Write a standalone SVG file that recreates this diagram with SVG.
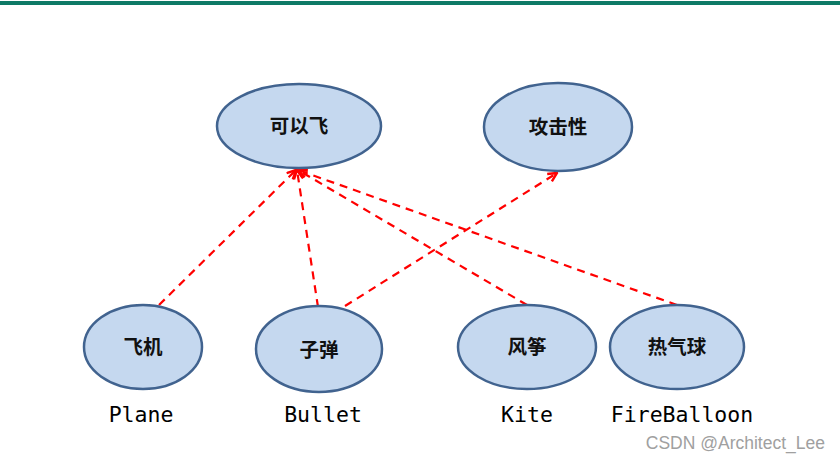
<svg xmlns="http://www.w3.org/2000/svg" width="840" height="463" viewBox="0 0 840 463">
<defs>
<style>
.n ellipse{fill:#c5d8ef;stroke:#41638f;stroke-width:2.5}
.n text{font-family:"Noto Sans CJK SC","Noto Sans CJK JP",sans-serif;font-size:19.5px;font-weight:bold;fill:#111;text-anchor:middle}
.lbl{font-family:"DejaVu Sans Mono","Liberation Mono",monospace;font-size:21.5px;fill:#000;text-anchor:middle}
.e{stroke:#ff0000;stroke-width:2.2;stroke-dasharray:8,6;fill:none;marker-end:url(#ah)}
</style>
<marker id="ah" viewBox="0 0 10 10" refX="9" refY="5" markerWidth="5" markerHeight="5" orient="auto" markerUnits="strokeWidth">
<path d="M1,1 L9,5 L1,9" fill="none" stroke="#ff0000" stroke-width="2.2"/>
</marker>
</defs>
<rect width="840" height="463" fill="#ffffff"/>
<rect x="0" y="1" width="840" height="4" fill="#0e7a66"/>
<g id="edges">
<line class="e" x1="159" y1="305" x2="296" y2="170"/>
<line class="e" x1="318" y1="307" x2="297" y2="170"/>
<line class="e" x1="345" y1="306" x2="557" y2="173"/>
<line class="e" x1="527" y1="305" x2="298" y2="170"/>
<line class="e" x1="677" y1="305" x2="298" y2="170"/>
</g>
<g id="fly" class="n"><ellipse cx="299" cy="126" rx="82" ry="42"/><text x="299" y="133">可以飞</text></g>
<g id="attack" class="n"><ellipse cx="558" cy="127" rx="74" ry="44"/><text x="558" y="134">攻击性</text></g>
<g id="plane" class="n"><ellipse cx="143" cy="347" rx="59" ry="42"/><text x="143" y="354">飞机</text></g>
<g id="bullet" class="n"><ellipse cx="319" cy="349" rx="63" ry="43"/><text x="319" y="357">子弹</text></g>
<g id="kite" class="n"><ellipse cx="527" cy="347" rx="69" ry="42"/><text x="527" y="354">风筝</text></g>
<g id="balloon" class="n"><ellipse cx="677" cy="347" rx="67" ry="42"/><text x="677" y="354">热气球</text></g>
<text class="lbl" x="141" y="422">Plane</text>
<text class="lbl" x="323" y="422">Bullet</text>
<text class="lbl" x="527" y="422">Kite</text>
<text class="lbl" x="682" y="422">FireBalloon</text>
<text x="825" y="449" font-family="'Liberation Sans',Arial,sans-serif" font-size="17.5" fill="#a0a0a0" text-anchor="end">CSDN @Architect_Lee</text>
</svg>
